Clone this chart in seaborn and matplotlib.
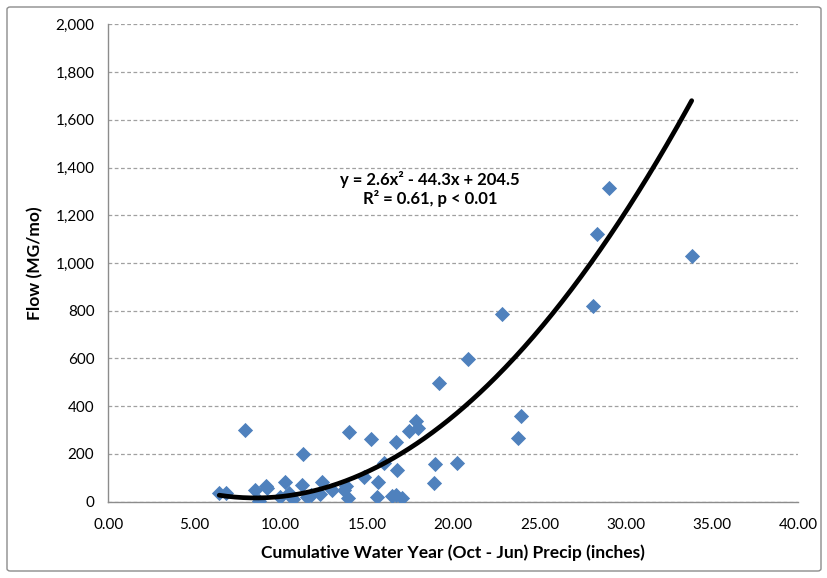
import numpy as np
import pandas as pd
import matplotlib
matplotlib.use("Agg")
import matplotlib.pyplot as plt
import seaborn as sns
from matplotlib.patches import FancyBboxPatch
from matplotlib.ticker import FuncFormatter, MultipleLocator

# Cumulative water-year precipitation (inches) and monthly flow (MG/mo)
precip = [6.43, 6.82, 7.90, 8.50, 8.74, 9.16, 9.22, 9.95, 10.24, 10.49,
          10.72, 11.21, 11.30, 11.50, 11.75, 12.27, 12.37, 12.95, 13.68, 13.78,
          13.88, 13.97, 14.84, 15.21, 15.56, 15.63, 15.98, 16.43, 16.66, 16.70,
          16.74, 17.01, 17.43, 17.84, 17.97, 18.90, 18.94, 19.19, 20.20, 20.87,
          22.81, 23.77, 23.92, 28.10, 28.35, 29.04, 33.82]
flow = [35, 38, 299, 49, 4, 66, 57, 20, 83, 35,
        13, 69, 201, 18, 27, 31, 81, 49, 49, 66,
        14, 293, 105, 261, 18, 81, 162, 24, 28, 249,
        134, 17, 296, 339, 310, 80, 159, 497, 161, 597,
        786, 268, 359, 819, 1121, 1315, 1028]

# Polynomial trendline coefficients (a*x^2 + b*x + c) and fit statistics
trend_coef = [2.6, -44.3, 204.5]
trend_label = "y = 2.6x² - 44.3x + 204.5\nR² = 0.61, p < 0.01"

x_title = "Cumulative Water Year (Oct - Jun) Precip (inches)"
y_title = "Flow (MG/mo)"

df = pd.DataFrame({"precip": precip, "flow": flow})
xs = np.linspace(min(precip), max(precip), 300)
trend = pd.DataFrame({"precip": xs, "flow": np.polyval(trend_coef, xs)})

sns.set_theme(style="white")
plt.rcParams["font.family"] = ["Lato", "DejaVu Sans"]

fig = plt.figure(figsize=(8.28, 5.78), dpi=100)
ax = fig.add_axes([108.3 / 828, 1 - 501.7 / 578, (798.3 - 108.3) / 828, (501.7 - 24.3) / 578])

# chart frame
fig.patches.append(FancyBboxPatch((7 / 828, 7 / 578), 814 / 828, 564 / 578,
                                  boxstyle="round,pad=0,rounding_size=0.004",
                                  transform=fig.transFigure, fill=False,
                                  edgecolor="#8c8c8c", linewidth=1.0))

sns.scatterplot(data=df, x="precip", y="flow", marker="D", s=60,
                color="#4F81BD", linewidth=0, ax=ax, zorder=3)
sns.lineplot(data=trend, x="precip", y="flow", color="black", linewidth=3.4,
             ax=ax, zorder=4)

ax.set_xlim(0, 40)
ax.set_ylim(0, 2000)
ax.xaxis.set_major_locator(MultipleLocator(5))
ax.yaxis.set_major_locator(MultipleLocator(200))
ax.xaxis.set_major_formatter(FuncFormatter(lambda v, p: f"{v:.2f}"))
ax.yaxis.set_major_formatter(FuncFormatter(lambda v, p: f"{v:,.0f}"))

ax.yaxis.grid(True, color="#a0a0a0", linestyle=(0, (3, 2)), linewidth=0.9)
ax.xaxis.grid(False)
ax.set_axisbelow(True)

for side in ("top", "right"):
    ax.spines[side].set_visible(False)
for side in ("left", "bottom"):
    ax.spines[side].set_color("#8c8c8c")
    ax.spines[side].set_linewidth(1.0)

ax.tick_params(axis="both", which="major", direction="out", length=5,
               width=0.9, color="#8c8c8c", labelsize=11, labelcolor="black")
ax.tick_params(axis="x", pad=7)
ax.tick_params(axis="y", pad=5)

ax.set_xlabel(x_title, fontsize=12.5, fontweight="bold", labelpad=9, color="black")
ax.set_ylabel(y_title, fontsize=12.5, fontweight="bold", labelpad=9, color="black")

ax.text(18.65, 1310, trend_label, ha="center", va="center", fontsize=12,
        fontweight="bold", linespacing=1.2, color="black")

fig.savefig("out.png", dpi=100)
